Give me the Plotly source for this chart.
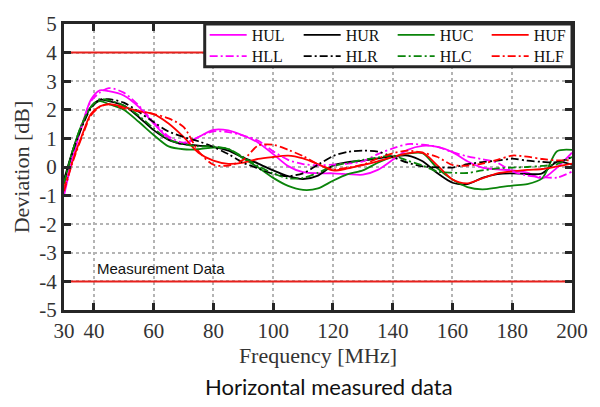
import plotly.graph_objects as go

freq = [30, 33, 36, 39, 42, 45, 50, 55, 60, 65, 70, 75, 80, 85, 90, 95, 100, 105, 110, 115,
        120, 125, 130, 135, 140, 145, 150, 155, 160, 165, 170, 175, 180, 185, 190, 195, 200]

hul = [-1.0, 0.35, 1.45, 2.35, 2.68, 2.65, 2.5, 2.1, 1.52, 1.0, 0.8, 1.05, 1.3, 1.28, 1.1, 0.85, 0.45,
       0.03, -0.18, -0.22, -0.22, -0.25, -0.27, -0.1, 0.25, 0.6, 0.74, 0.7, 0.52, 0.2, -0.02, -0.08,
       -0.12, -0.2, -0.4, -0.02, 0.5]
hll = [-0.9, 0.4, 1.45, 2.3, 2.6, 2.76, 2.6, 2.15, 1.57, 1.07, 0.85, 1.05, 1.25, 1.22, 1.1, 0.92, 0.55,
       0.25, 0.1, 0.06, 0.08, 0.12, 0.2, 0.45, 0.65, 0.8, 0.78, 0.7, 0.52, 0.37, 0.27, 0.15,
       -0.15, -0.3, -0.35, -0.37, -0.16]
hur = [-0.45, 0.6, 1.45, 2.1, 2.35, 2.3, 2.15, 1.75, 1.29, 0.95, 0.8, 0.75, 0.7, 0.57, 0.33, 0.12, -0.12,
       -0.32, -0.42, -0.3, 0.05, 0.17, 0.22, 0.3, 0.37, 0.4, 0.2, -0.22, -0.55, -0.6, -0.38, -0.25,
       -0.22, -0.25, -0.22, 0.18, 0.07]
hlr = [-0.5, 0.55, 1.4, 2.05, 2.35, 2.37, 2.25, 1.93, 1.57, 1.24, 1.05, 0.9, 0.7, 0.45, 0.15, -0.05, -0.24,
       -0.32, -0.22, 0.08, 0.38, 0.53, 0.57, 0.54, 0.35, 0.15, 0.02, -0.01, -0.02, 0.1, 0.17, 0.22,
       0.29, 0.22, 0.18, 0.17, 0.35]
huc = [-0.6, 0.6, 1.5, 2.1, 2.3, 2.2, 2.0, 1.58, 1.12, 0.72, 0.62, 0.62, 0.68, 0.63, 0.3, -0.02, -0.38,
       -0.66, -0.8, -0.75, -0.48, -0.25, -0.12, 0.15, 0.35, 0.47, 0.48, -0.05, -0.44, -0.7, -0.78, -0.72,
       -0.65, -0.6, -0.4, 0.55, 0.6]
hlc = [-0.55, 0.6, 1.5, 2.1, 2.37, 2.33, 2.15, 1.8, 1.35, 0.96, 0.8, 0.72, 0.72, 0.63, 0.35, 0.03, -0.22,
       -0.4, -0.38, -0.2, 0.03, 0.15, 0.25, 0.33, 0.4, 0.22, 0.05, -0.16, -0.2, -0.21, -0.12, -0.05,
       -0.02, 0.0, 0.04, 0.1, 0.35]
huf = [-0.75, 0.25, 1.1, 1.85, 2.12, 2.2, 2.1, 1.95, 1.85, 1.52, 1.05, 0.5, 0.22, 0.11, 0.15, 0.28, 0.35,
       0.4, 0.3, 0.1, -0.12, -0.05, 0.07, 0.2, 0.35, 0.48, 0.5, 0.05, -0.44, -0.57, -0.4, -0.22,
       -0.15, -0.1, -0.07, 0.02, 0.12]
hlf = [-0.85, 0.2, 1.05, 1.8, 2.1, 2.19, 2.05, 1.95, 1.85, 1.7, 1.4, 0.55, 0.08, 0.05, 0.25, 0.75, 0.78,
       0.6, 0.38, 0.1, -0.08, -0.02, 0.08, 0.3, 0.48, 0.57, 0.5, 0.35, 0.07, 0.05, 0.12, 0.25,
       0.4, 0.36, 0.28, 0.23, 0.24]

limit_freq = [30, 200]
limit_values = [4, -4]

x_ticks = [30, 40, 60, 80, 100, 120, 140, 160, 180, 200]
x_ticktext = ["30", "40", "60", "80", "100", "120", "140", "160", "180", "200"]
y_ticks = [-5, -4, -3, -2, -1, 0, 1, 2, 3, 4, 5]
y_ticktext = ["-5", "-4", "-3", "-2", "-1", "0", "1", "2", "3", "4", "5"]

DASHDOT = "8px,3px,2px,3px"
series = [
    ("HUL", hul, "#ff00ff", "solid", "legend"),
    ("HUR", hur, "#000000", "solid", "legend"),
    ("HUC", huc, "#0a840a", "solid", "legend"),
    ("HUF", huf, "#ff0000", "solid", "legend"),
    ("HLL", hll, "#ff00ff", DASHDOT, "legend2"),
    ("HLR", hlr, "#000000", DASHDOT, "legend2"),
    ("HLC", hlc, "#0a840a", DASHDOT, "legend2"),
    ("HLF", hlf, "#ff0000", DASHDOT, "legend2"),
]

fig = go.Figure()
for v in limit_values:
    fig.add_trace(go.Scatter(x=limit_freq, y=[v, v], mode="lines",
                             line=dict(color="#e8201c", width=2), showlegend=False,
                             hoverinfo="skip"))

for name, vals, color, dash, lg in series:
    fig.add_trace(go.Scatter(x=freq, y=vals, mode="lines", name=name, legend=lg,
                             line=dict(color=color, width=1.8, dash=dash, shape="spline",
                                       smoothing=0.8)))

axis_common = dict(
    showline=True, linewidth=3, linecolor="#262626", mirror="allticks",
    ticks="inside", ticklen=7, tickwidth=3, tickcolor="#262626",
    showgrid=True, gridcolor="#b4b4b4", gridwidth=2, griddash="dot",
    zeroline=False,
    tickfont=dict(family="Liberation Serif", size=21, color="#333333"),
)

legend_common = dict(
    orientation="h", xanchor="left", yanchor="middle",
    bgcolor="rgba(0,0,0,0)", borderwidth=0,
    font=dict(family="Liberation Serif", size=16, color="#111111"),
    entrywidth=42, itemwidth=37,
)

box_left = 0.277
box_bottom = (310.5 - 58) / 297
legend_x = (207 - 63.5) / 518.2

fig.update_layout(
    width=600, height=407,
    margin=dict(l=63.5, r=18.3, t=13.5, b=96.5),
    paper_bgcolor="white", plot_bgcolor="white",
    showlegend=True,
    legend=dict(x=legend_x, y=(310.5 - 25) / 297, **legend_common),
    legend2=dict(x=legend_x, y=(310.5 - 47) / 297, **legend_common),
    shapes=[dict(type="rect", xref="paper", yref="paper", x0=box_left, x1=1.0,
                 y0=box_bottom, y1=1.0, fillcolor="white", layer="above",
                 line=dict(color="#262626", width=3))],
    xaxis=dict(range=[30, 200], tickvals=x_ticks, ticktext=x_ticktext, **axis_common,
               title=dict(text="Frequency [MHz]", standoff=6,
                          font=dict(family="Liberation Serif", size=22, color="#333333"))),
    yaxis=dict(range=[-5, 5], tickvals=y_ticks, ticktext=y_ticktext, **axis_common,
               title=dict(text="Deviation [dB]", standoff=4,
                          font=dict(family="Liberation Serif", size=22, color="#333333"))),
    annotations=[
        dict(x=40.3, y=-3.55, xref="x", yref="y", text="Measurement Data", showarrow=False,
             xanchor="left", yanchor="middle",
             font=dict(family="Liberation Sans", size=15, color="#111111")),
        dict(x=(205 - 63.5) / 518.2, y=(310.5 - 390) / 297, xref="paper", yref="paper",
             text="Horizontal measured data", showarrow=False,
             xanchor="left", yanchor="middle",
             font=dict(family="Lato", size=22, color="#111111")),
    ],
)

fig.write_html("out.html")
